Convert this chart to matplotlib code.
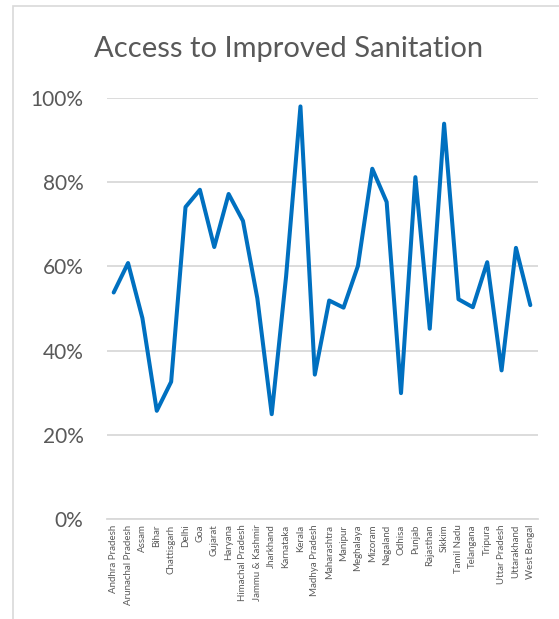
import matplotlib
matplotlib.use("Agg")
import matplotlib.pyplot as plt
from matplotlib.ticker import PercentFormatter
from matplotlib.patches import Rectangle

states = [
    "Andhra Pradesh", "Arunachal Pradesh", "Assam", "Bihar", "Chattisgarh",
    "Delhi", "Goa", "Gujarat", "Haryana", "Himachal Pradesh",
    "Jammu & Kashmir", "Jharkhand", "Karnataka", "Kerala", "Madhya Pradesh",
    "Maharashtra", "Manipur", "Meghalaya", "Mizoram", "Nagaland",
    "Odhisa", "Punjab", "Rajasthan", "Sikkim", "Tamil Nadu",
    "Telangana", "Tripura", "Uttar Pradesh", "Uttarakhand", "West Bengal",
]
sanitation = [
    0.538, 0.608, 0.477, 0.257, 0.326,
    0.741, 0.782, 0.646, 0.772, 0.708,
    0.524, 0.249, 0.576, 0.980, 0.343,
    0.519, 0.502, 0.601, 0.832, 0.753,
    0.299, 0.812, 0.452, 0.939, 0.522,
    0.503, 0.610, 0.353, 0.644, 0.508,
]
y_ticks = [0, 0.2, 0.4, 0.6, 0.8, 1.0]
title = "Access to Improved Sanitation"

TEXT = "#595959"
GRID = "#D9D9D9"
LINE = "#0070C0"
FONT = ["Lato", "DejaVu Sans"]

W, H = 559, 619
fig = plt.figure(figsize=(W / 100, H / 100), dpi=100)
fig.patch.set_facecolor("white")

# chart-area border (left and top edges visible)
fig.patches.append(Rectangle((12.5 / W, -0.2), 1.5, 1 - 6 / H + 0.2,
                             transform=fig.transFigure, fill=False,
                             edgecolor=GRID, linewidth=1.2))

left, right = 106.5 / W, 537.5 / W
bottom, top = 1 - 519 / H, 1 - 98 / H
ax = fig.add_axes([left, bottom, right - left, top - bottom])

x = list(range(len(states)))
ax.plot(x, sanitation, color=LINE, linewidth=2.9,
        solid_joinstyle="round", solid_capstyle="round", zorder=3)

ax.set_xlim(-0.5, len(states) - 0.5)
ax.set_ylim(0, 1.0)
ax.set_yticks(y_ticks)
ax.yaxis.set_major_formatter(PercentFormatter(1.0, decimals=0))
ax.set_xticks(x)
ax.set_xticklabels(states, rotation=90, fontsize=7.0, color=TEXT,
                   family=FONT)

ax.grid(axis="y", color=GRID, linewidth=1.3, zorder=0)
ax.set_axisbelow(True)
for s in ["left", "right", "top"]:
    ax.spines[s].set_visible(False)
ax.spines["bottom"].set_color(GRID)
ax.spines["bottom"].set_linewidth(1.3)

ax.tick_params(axis="y", length=0, pad=16.5, labelsize=15, labelcolor=TEXT)
ax.tick_params(axis="x", length=0, pad=4)
for lab in ax.get_yticklabels():
    lab.set_family(FONT)

fig.text(288.5 / W, 1 - 56.7 / H, title, ha="center", va="baseline",
         fontsize=21, color=TEXT, family=FONT)

fig.savefig("out.png", dpi=100, facecolor="white")
